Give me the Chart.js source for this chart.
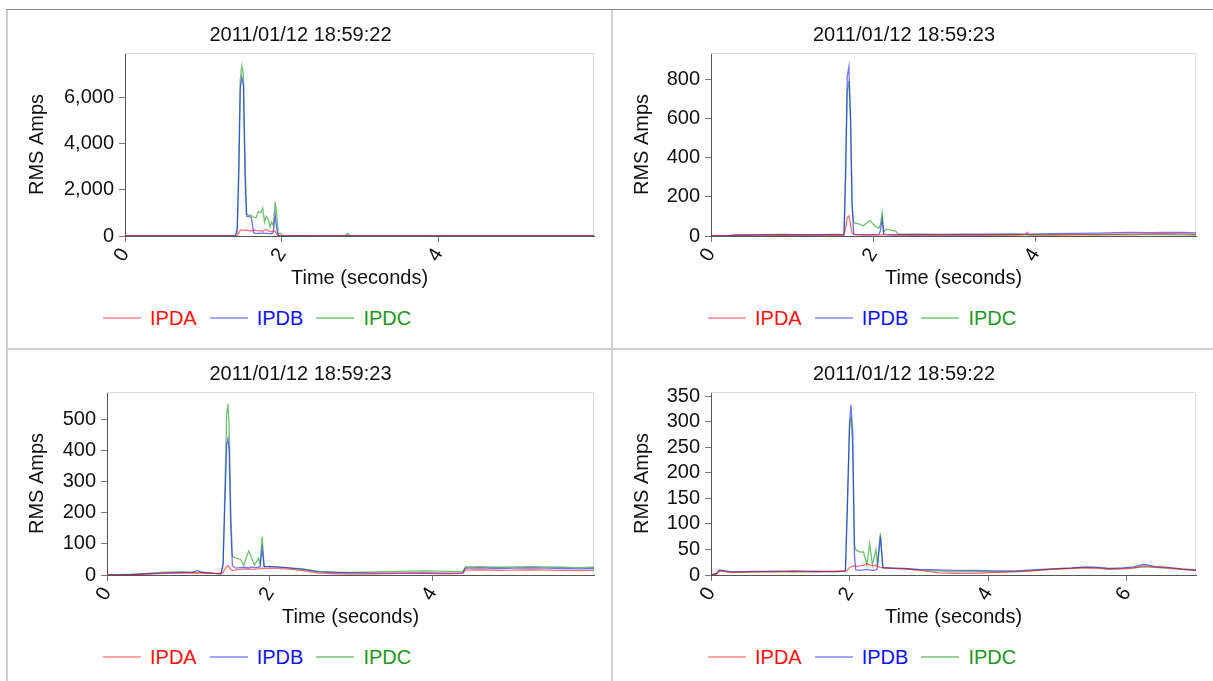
<!DOCTYPE html>
<html>
<head>
<meta charset="utf-8">
<script src="https://cdn.jsdelivr.net/npm/chart.js@4.4.1/dist/chart.umd.min.js"></script>
<style>
  html, body { margin: 0; padding: 0; background: #fff; }
  body { width: 1213px; height: 681px; position: relative; overflow: hidden; font-family: "Liberation Sans", Arial, sans-serif; }
  canvas { position: absolute; }
  .rule { position: absolute; }
  .legend { position: absolute; display: flex; align-items: center; height: 24px; font-size: 20px; white-space: nowrap; }
  .legend .sw { width: 38px; height: 2px; margin-right: 9px; }
  .legend .lb { margin-right: 13px; line-height: 24px; }
</style>
</head>
<body>
<div class="rule" style="left:6px;top:9px;width:1207px;height:1px;background:#8c8c8c"></div>
<div class="rule" style="left:6px;top:10px;width:2px;height:671px;background:#cfcfcf"></div>
<div class="rule" style="left:611px;top:10px;width:2px;height:671px;background:#d2d2d2"></div>
<div class="rule" style="left:8px;top:348px;width:1205px;height:2px;background:#cfcfcf"></div>

<canvas id="c1" width="604" height="280" style="left:7px;top:10px"></canvas>
<canvas id="c2" width="601" height="280" style="left:612px;top:10px"></canvas>
<canvas id="c3" width="604" height="280" style="left:7px;top:349px"></canvas>
<canvas id="c4" width="601" height="280" style="left:612px;top:349px"></canvas>
<div class="legend" id="l1" style="left:103px;top:306px"></div>
<div class="legend" id="l2" style="left:708px;top:306px"></div>
<div class="legend" id="l3" style="left:103px;top:645px"></div>
<div class="legend" id="l4" style="left:708px;top:645px"></div>

<script>
// ---------- data ----------
const seriesNames = ["IPDA", "IPDB", "IPDC"];
const panelTitles = ["2011/01/12 18:59:22", "2011/01/12 18:59:23", "2011/01/12 18:59:23", "2011/01/12 18:59:22"];
const xTitle = "Time (seconds)";
const yTitle = "RMS Amps";

// Panel 1 (top-left)
const p1Time = [0, 0.6, 1.2, 1.40, 1.43, 1.45, 1.47, 1.49, 1.51, 1.53, 1.55, 1.58, 1.61, 1.64, 1.67, 1.70, 1.73, 1.755, 1.78, 1.80, 1.83, 1.85, 1.87, 1.89, 1.915, 1.935, 1.955, 1.98, 2.02, 2.2, 2.5, 2.8, 2.84, 2.88, 3.2, 4.0, 4.8, 5.5, 5.98];
const p1IPDA = [0, 0, 0, 0, 20, 120, 250, 260, 250, 240, 250, 230, 210, 260, 240, 220, 230, 200, 250, 280, 220, 200, 180, 230, 200, 80, 20, 0, 0, 0, 0, 0, 0, 0, 0, 0, 0, 0, 0];
const p1IPDB = [0, 0, 0, 0, 150, 2500, 6400, 6850, 6500, 2500, 850, 850, 800, 150, 100, 120, 110, 130, 100, 120, 90, 110, 100, 150, 900, 300, 20, 10, 0, 0, 0, 0, 40, 0, 0, 0, 0, 0, 0];
const p1IPDC = [0, 0, 0, 0, 300, 3000, 6800, 7350, 6900, 3500, 950, 900, 880, 820, 780, 1050, 1000, 1200, 600, 850, 700, 380, 600, 450, 1480, 900, 60, 120, 0, 20, 0, 0, 110, 0, 0, 0, 0, 0, 0];

// Panel 2 (top-right)
const p2Time = [0, 0.2, 0.3, 0.6, 0.9, 1.2, 1.5, 1.64, 1.66, 1.68, 1.70, 1.72, 1.74, 1.76, 1.82, 1.88, 1.93, 1.96, 2.00, 2.04, 2.07, 2.09, 2.11, 2.13, 2.16, 2.22, 2.28, 2.31, 2.5, 2.8, 3.1, 3.4, 3.7, 3.88, 3.9, 3.92, 4.2, 4.5, 4.8, 5.0, 5.2, 5.4, 5.6, 5.8, 5.98];
const p2IPDA = [0, 1, 3, 4, 5, 4, 5, 6, 40, 95, 104, 60, 15, 10, 8, 7, 6, 7, 8, 6, 5, 6, 8, 7, 6, 5, 6, 5, 4, 5, 4, 5, 6, 8, 20, 7, 6, 7, 8, 9, 10, 11, 12, 11, 10];
const p2IPDB = [0, 2, 6, 7, 8, 6, 8, 7, 350, 820, 868, 620, 160, 8, 6, 7, 6, 5, 7, 6, 8, 30, 85, 10, 8, 7, 6, 8, 9, 8, 10, 9, 11, 10, 9, 10, 12, 13, 15, 17, 18, 17, 19, 18, 16];
const p2IPDC = [0, 1, 3, 4, 3, 5, 4, 5, 300, 740, 795, 600, 150, 68, 62, 52, 70, 80, 60, 45, 40, 60, 120, 20, 35, 30, 25, 6, 5, 4, 5, 4, 5, 6, 6, 5, 5, 6, 5, 7, 6, 8, 7, 6, 5];

// Panel 3 (bottom-left)
const p3Time = [0, 0.3, 0.5, 0.7, 0.9, 1.05, 1.11, 1.17, 1.3, 1.40, 1.425, 1.45, 1.47, 1.485, 1.50, 1.52, 1.54, 1.58, 1.64, 1.68, 1.74, 1.79, 1.81, 1.86, 1.88, 1.905, 1.93, 2.0, 2.2, 2.4, 2.6, 2.8, 3.0, 3.3, 3.6, 3.9, 4.2, 4.37, 4.40, 4.6, 4.8, 5.0, 5.2, 5.4, 5.6, 5.8, 5.98];
const p3IPDA = [0, 1, 3, 5, 6, 7, 6, 7, 5, 4, 8, 20, 28, 30, 25, 18, 15, 16, 18, 19, 20, 18, 19, 20, 21, 22, 20, 22, 20, 14, 6, 4, 3, 4, 5, 5, 4, 5, 16, 17, 15, 16, 17, 16, 15, 14, 15];
const p3IPDB = [0, 2, 4, 6, 8, 9, 15, 8, 5, 4, 30, 250, 420, 440, 400, 150, 30, 22, 24, 25, 23, 26, 24, 25, 27, 85, 26, 28, 24, 18, 10, 8, 7, 6, 6, 7, 6, 7, 22, 23, 21, 22, 23, 22, 21, 20, 21];
const p3IPDC = [0, 1, 5, 9, 10, 8, 8, 9, 6, 5, 40, 300, 520, 552, 480, 200, 60, 55, 50, 32, 78, 45, 32, 54, 35, 124, 28, 27, 24, 20, 12, 9, 8, 10, 12, 13, 12, 11, 26, 27, 25, 26, 27, 26, 25, 24, 25];

// Panel 4 (bottom-right)
const p4Time = [0, 0.08, 0.12, 0.3, 0.6, 0.9, 1.2, 1.5, 1.8, 1.94, 1.97, 2.0, 2.02, 2.045, 2.07, 2.09, 2.15, 2.20, 2.25, 2.29, 2.33, 2.38, 2.40, 2.445, 2.48, 2.6, 2.8, 3.0, 3.3, 3.5, 3.8, 4.1, 4.4, 4.65, 4.9, 5.2, 5.4, 5.6, 5.75, 5.95, 6.1, 6.25, 6.4, 6.6, 6.8, 7.0];
const p4IPDA = [0, 2, 8, 5, 6, 6, 7, 6, 7, 7, 10, 14, 16, 17, 18, 17, 18, 19, 22, 20, 18, 19, 17, 15, 14, 13, 12, 9, 4, 3, 3, 5, 6, 8, 11, 13, 14, 13, 11, 12, 14, 18, 16, 14, 11, 9];
const p4IPDB = [0, 3, 10, 6, 7, 7, 8, 7, 7, 8, 140, 300, 333, 280, 40, 10, 9, 10, 11, 10, 9, 10, 12, 75, 14, 14, 13, 11, 10, 9, 9, 8, 8, 10, 12, 14, 16, 15, 13, 14, 16, 21, 17, 15, 12, 10];
const p4IPDC = [0, 2, 9, 5, 6, 7, 6, 7, 6, 8, 150, 290, 310, 250, 60, 49, 45, 45, 20, 61, 20, 50, 20, 82, 15, 13, 12, 10, 8, 6, 7, 6, 7, 9, 11, 13, 15, 14, 12, 13, 14, 16, 15, 13, 11, 9];

// axis ranges and tick values
const xMaxes = [5.98, 5.98, 5.98, 7.0];
const yMaxes = [7900, 938, 590, 358];
const xTicksList = [[0, 2, 4], [0, 2, 4], [0, 2, 4], [0, 2, 4, 6]];
const yTicksList = [
  [0, 2000, 4000, 6000],
  [0, 200, 400, 600, 800],
  [0, 100, 200, 300, 400, 500],
  [0, 50, 100, 150, 200, 250, 300, 350]
];

// ---------- styling ----------
const lineColors = ["rgba(255,0,0,0.55)", "rgba(0,0,255,0.55)", "rgba(0,140,0,0.55)"];
const swatchColors = ["rgba(255,0,0,0.35)", "rgba(0,0,255,0.35)", "rgba(0,140,0,0.4)"];
const textColors = ["#ff1010", "#1010ff", "#1f961f"];
const FONT = "'Liberation Sans', Arial, sans-serif";

const plotFrame = {
  id: 'plotFrame',
  beforeDatasetsDraw(chart) {
    const {ctx, chartArea: a} = chart;
    ctx.save();
    ctx.strokeStyle = '#dcdcdc';
    ctx.lineWidth = 1;
    ctx.beginPath();
    ctx.moveTo(a.left, a.top + 0.5);
    ctx.lineTo(a.right - 0.5, a.top + 0.5);
    ctx.lineTo(a.right - 0.5, a.bottom);
    ctx.stroke();
    ctx.restore();
  }
};

function pts(t, v) { return t.map((x, i) => ({x: x, y: v[i]})); }

function makePanel(idx, canvasId, legendId, t, a, b, c, yWidth) {
  const series = [a, b, c];
  const chart = new Chart(document.getElementById(canvasId), {
    type: 'line',
    data: {
      datasets: series.map((s, i) => ({
        label: seriesNames[i],
        data: pts(t, s),
        borderColor: lineColors[i],
        borderWidth: 1.3,
        pointRadius: 0,
        tension: 0,
        fill: false
      }))
    },
    options: {
      responsive: false,
      animation: false,
      devicePixelRatio: 1,
      layout: { padding: { left: 0, right: 17, top: 0, bottom: 0 } },
      plugins: {
        legend: { display: false },
        tooltip: { enabled: false },
        title: {
          display: true,
          text: panelTitles[idx],
          color: '#111',
          font: { family: FONT, size: 20, weight: 'normal' },
          padding: { top: 13.6, bottom: 5.4 }
        }
      },
      scales: {
        x: {
          type: 'linear',
          min: 0,
          max: xMaxes[idx],
          afterBuildTicks(s) { s.ticks = xTicksList[idx].map(v => ({value: v})); },
          afterFit(s) { s.height = 54; },
          grid: { display: true, drawOnChartArea: false, drawTicks: true, tickLength: 6, color: '#777' },
          border: { display: true, color: '#555', width: 1 },
          ticks: {
            autoSkip: false,
            minRotation: 58,
            maxRotation: 58,
            padding: 2,
            color: '#111',
            font: { family: FONT, size: 20 }
          },
          title: {
            display: true,
            text: xTitle,
            color: '#111',
            font: { family: FONT, size: 20 },
            padding: { top: 0, bottom: 0 }
          }
        },
        y: {
          min: 0,
          max: yMaxes[idx],
          afterBuildTicks(s) { s.ticks = yTicksList[idx].map(v => ({value: v})); },
          afterFit(s) { s.width = yWidth; },
          grid: { display: true, drawOnChartArea: false, drawTicks: true, tickLength: 6, color: '#777' },
          border: { display: true, color: '#555', width: 1 },
          ticks: {
            autoSkip: false,
            padding: 5,
            color: '#111',
            font: { family: FONT, size: 20 }
          },
          title: {
            display: true,
            text: yTitle,
            color: '#111',
            font: { family: FONT, size: 20 },
            padding: { top: 18, bottom: 0 }
          }
        }
      }
    },
    plugins: [plotFrame]
  });

  const lg = document.getElementById(legendId);
  chart.data.datasets.forEach((ds, i) => {
    const sw = document.createElement('span');
    sw.className = 'sw';
    sw.style.background = swatchColors[i];
    const lb = document.createElement('span');
    lb.className = 'lb';
    lb.style.color = textColors[i];
    lb.textContent = ds.label;
    lg.appendChild(sw);
    lg.appendChild(lb);
  });
  return chart;
}

makePanel(0, 'c1', 'l1', p1Time, p1IPDA, p1IPDB, p1IPDC, 118);
makePanel(1, 'c2', 'l2', p2Time, p2IPDA, p2IPDB, p2IPDC, 99);
makePanel(2, 'c3', 'l3', p3Time, p3IPDA, p3IPDB, p3IPDC, 100);
makePanel(3, 'c4', 'l4', p4Time, p4IPDA, p4IPDB, p4IPDC, 99);
</script>
</body>
</html>
